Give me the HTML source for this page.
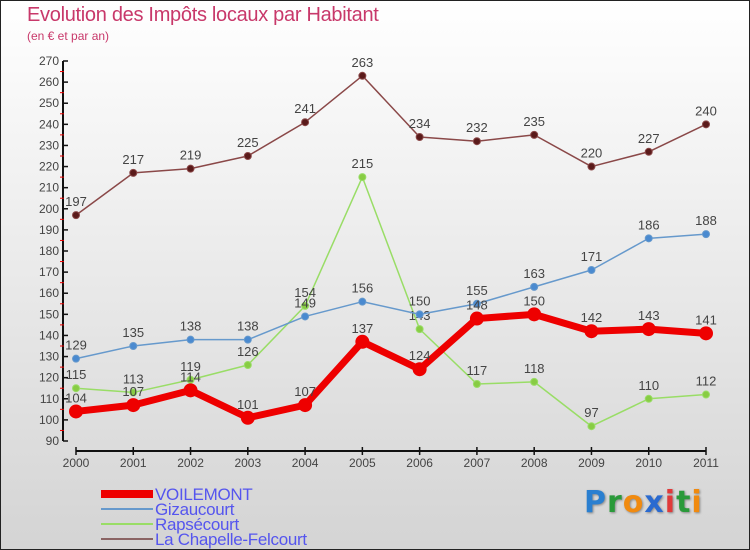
<!DOCTYPE html>
<html><head><meta charset="utf-8"><style>
body{margin:0;}
#wrap{position:relative;width:750px;height:550px;box-sizing:border-box;border:1px solid #222;background:linear-gradient(#ffffff,#d4d4d4);font-family:"Liberation Sans",sans-serif;overflow:hidden}
.t{position:absolute;color:#c8386a}
</style></head><body>
<div id="wrap">
<div class="t" style="left:26px;top:3px;font-size:20px;letter-spacing:-0.3px">Evolution des Impôts locaux par Habitant</div>
<div class="t" style="left:26px;top:28px;font-size:12px">(en € et par an)</div>
<svg id="svg" width="750" height="550" style="position:absolute;left:0;top:0"></svg>
<div style="position:absolute;left:583px;top:484px;font-size:30px;font-family:'DejaVu Sans',sans-serif;font-weight:bold;letter-spacing:1px;text-shadow:1px 1px 2px #888"><span style="color:#2a7fd0">P</span><span style="color:#2a9a3a">r</span><span style="color:#f08a10">o</span><span style="color:#2a6ad0">x</span><span style="color:#e03a3a">i</span><span style="color:#2a9a3a">t</span><span style="color:#f08a10">i</span></div>
</div>
<script>
const years=["2000","2001","2002","2003","2004","2005","2006","2007","2008","2009","2010","2011"];
const yTicks=[90,100,110,120,130,140,150,160,170,180,190,200,210,220,230,240,250,260,270];
const voilemont=[104,107,114,101,107,137,124,148,150,142,143,141];
const gizaucourt=[129,135,138,138,149,156,150,155,163,171,186,188];
const rapsecourt=[115,113,119,126,154,215,143,117,118,97,110,112];
const chapelle=[197,217,219,225,241,263,234,232,235,220,227,240];
const seriesNames=["VOILEMONT","Gizaucourt","Rapsécourt","La Chapelle-Felcourt"];
const NS="http://www.w3.org/2000/svg";
const svg=document.getElementById('svg');
const FF='Liberation Sans Narrow,Liberation Sans,sans-serif';
function x(i){return 75+i*(630/11);}
function y(v){return 440-(v-90)*(380/180);}
function mk(t,a,p){const e=document.createElementNS(NS,t);for(const k in a)e.setAttribute(k,a[k]);(p||svg).appendChild(e);return e;}
let ax=mk('line',{x1:62,y1:y(270),x2:62,y2:y(90),stroke:'#111','stroke-width':2});


yTicks.forEach(v=>{
  mk('line',{x1:62,y1:y(v),x2:67,y2:y(v),stroke:'#111','stroke-width':1.5});
  if(v<270) mk('line',{x1:59,y1:y(v+5),x2:63,y2:y(v+5),stroke:'#e00','stroke-width':1});
  const t=mk('text',{x:58,y:y(v)+4,'text-anchor':'end','font-size':12,fill:'#444','font-family':FF});
  t.textContent=v;
  
  
});
let xa=mk('line',{x1:x(0),y1:450,x2:x(11),y2:450,stroke:'#111','stroke-width':2});


years.forEach((yr,i)=>{
  mk('line',{x1:x(i),y1:446,x2:x(i),y2:454,stroke:'#111','stroke-width':1.5});
  const t=mk('text',{x:x(i),y:466,'text-anchor':'middle','font-size':12,fill:'#444','font-family':FF});
  t.textContent=yr;
  
  
});
function series(data,color,dot,w,r,name){
  const g=mk('g',{});
  
  
  mk('polyline',{points:data.map((v,i)=>x(i)+','+y(v)).join(' '),fill:'none',stroke:color,'stroke-width':w,'stroke-linejoin':'round'},g);
  data.forEach((v,i)=>{
    const c=mk('circle',{cx:x(i),cy:y(v),r:r,fill:dot,stroke:color,'stroke-width':1},g);
    
    
    const t=mk('text',{x:x(i),y:y(v)-9,'text-anchor':'middle','font-size':13,fill:'#444','font-family':FF},g);
    t.textContent=v;
    
    
  });
}
series(chapelle,'#8a4848','#5a1a1a',1.5,3.5,'series-la-chapelle-felcourt');
series(rapsecourt,'#99dd66','#88cc44',1.5,3.5,'series-rapsecourt');
series(gizaucourt,'#6699cc','#4a8ad0',1.5,3.5,'series-gizaucourt');
series(voilemont,'#ee0000','#ee0000',7,6.5,'series-voilemont');
const lc=['#ee0000','#6699cc','#99dd66','#8a6464'],lw=[8,2,2,2];
seriesNames.forEach((n,i)=>{
  const yy=493+i*15;
  const g=mk('g',{});
  
  
  mk('line',{x1:100,y1:yy,x2:152,y2:yy,stroke:lc[i],'stroke-width':lw[i]},g);
  const t=mk('text',{x:154,y:yy+6,'font-size':17,fill:'#5555ee','font-family':FF,'letter-spacing':'-0.3'},g);
  t.textContent=n;
});
</script>
</body></html>
